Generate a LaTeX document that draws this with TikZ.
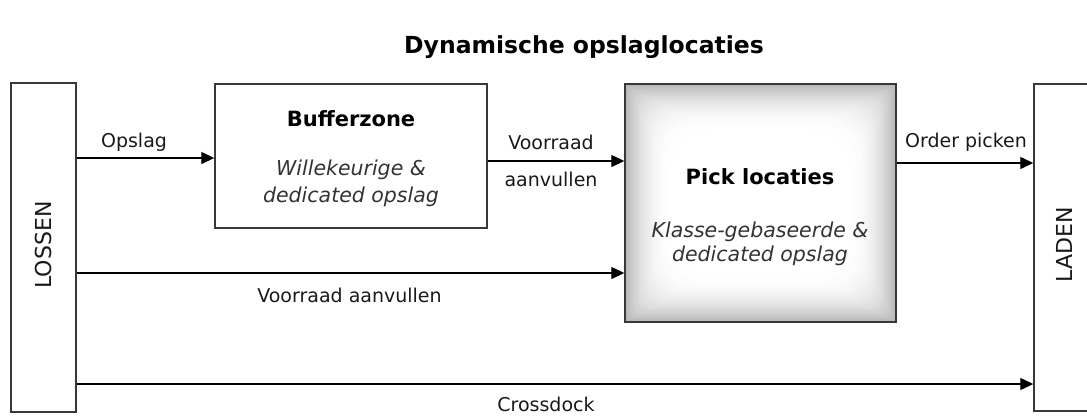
\documentclass[tikz,border=0pt]{standalone}
\usepackage{fontspec}
\setmainfont{DejaVu Sans}
\usetikzlibrary{arrows.meta,calc}
\begin{document}
\begin{tikzpicture}[x=1pt,y=-1pt,
  box/.style={draw=black!78,line width=1.4pt,inner sep=0pt,fill=white},
  lbl/.style={inner sep=0pt,text=black!90,font=\fontsize{19}{23}\selectfont},
  side/.style={inner sep=0pt,text=black!90,font=\fontsize{22}{26}\selectfont,rotate=90},
  ttl/.style={inner sep=0pt,font=\fontsize{21}{25}\selectfont\bfseries},
  itl/.style={inner sep=0pt,font=\fontsize{20.5}{24}\selectfont\itshape,text=black!80},
  arr/.style={line width=1.3pt,-{Triangle[length=13pt,width=12pt]}}
]
\useasboundingbox (0,0) rectangle (1087,416);
\clip (0,0) rectangle (1087,416);
\node[inner sep=0pt,font=\fontsize{23.5}{28}\selectfont\bfseries] (title) at (584,47) {Dynamische opslaglocaties};
% boxes
\node[box,minimum width=65pt,minimum height=329pt] (lossen) at (43.5,247.5) {};
\node[box,minimum width=80pt,minimum height=327pt] (laden) at (1074,247.5) {};
\node[box,minimum width=272pt,minimum height=144pt] (buffer) at (351,156) {};
\node[box,minimum width=271pt,minimum height=238pt,
  path picture={
    \foreach \i in {0,...,32}{
      \pgfmathsetmacro{\d}{\i*1.5}
      \pgfmathsetmacro{\c}{28*(1-\i/32)^2.2}
      \fill[black!\c!white,rounded corners=\d pt] ($(path picture bounding box.north west)+(\d,\d)$) rectangle ($(path picture bounding box.south east)-(\d,\d)$);
    }
  }] (pick) at (760.5,203) {};
% texts
\node[side] (tlossen) at (43,245) {LOSSEN};
\node[side] (tladen) at (1064,245) {LADEN};
\node[ttl] (tbuf) at (351,119) {Bufferzone};
\node[itl] (tbuf1) at (351,170) {Willekeurige \&};
\node[itl] (tbuf2) at (351,197) {dedicated opslag};
\node[ttl] (tpick) at (760,177) {Pick locaties};
\node[itl] (tpick1) at (760,232) {Klasse-gebaseerde \&};
\node[itl] (tpick2) at (760,256) {dedicated opslag};
% arrows
\coordinate (a1) at (lossen.east |- 0,158);
\draw[arr] (a1) -- (a1 -| buffer.west);
\node[lbl] (lopslag) at (134,142) {Opslag};
\coordinate (a2) at (buffer.east |- 0,161);
\draw[arr] (a2) -- (a2 -| pick.west);
\node[lbl] (lvoor) at (551,142) {Voorraad};
\node[lbl] (laan) at (551,179) {aanvullen};
\coordinate (a3) at (pick.east |- 0,163);
\draw[arr] (a3) -- (a3 -| laden.west);
\node[lbl] (lorder) at (966,142) {Order picken};
\coordinate (a4) at (lossen.east |- 0,273);
\draw[arr] (a4) -- (a4 -| pick.west);
\node[lbl] (lvoor2) at (349.5,295) {Voorraad aanvullen};
\coordinate (a5) at (lossen.east |- 0,384);
\draw[arr] (a5) -- (a5 -| laden.west);
\node[lbl] (lcross) at (546,404) {Crossdock};
\end{tikzpicture}
\end{document}
